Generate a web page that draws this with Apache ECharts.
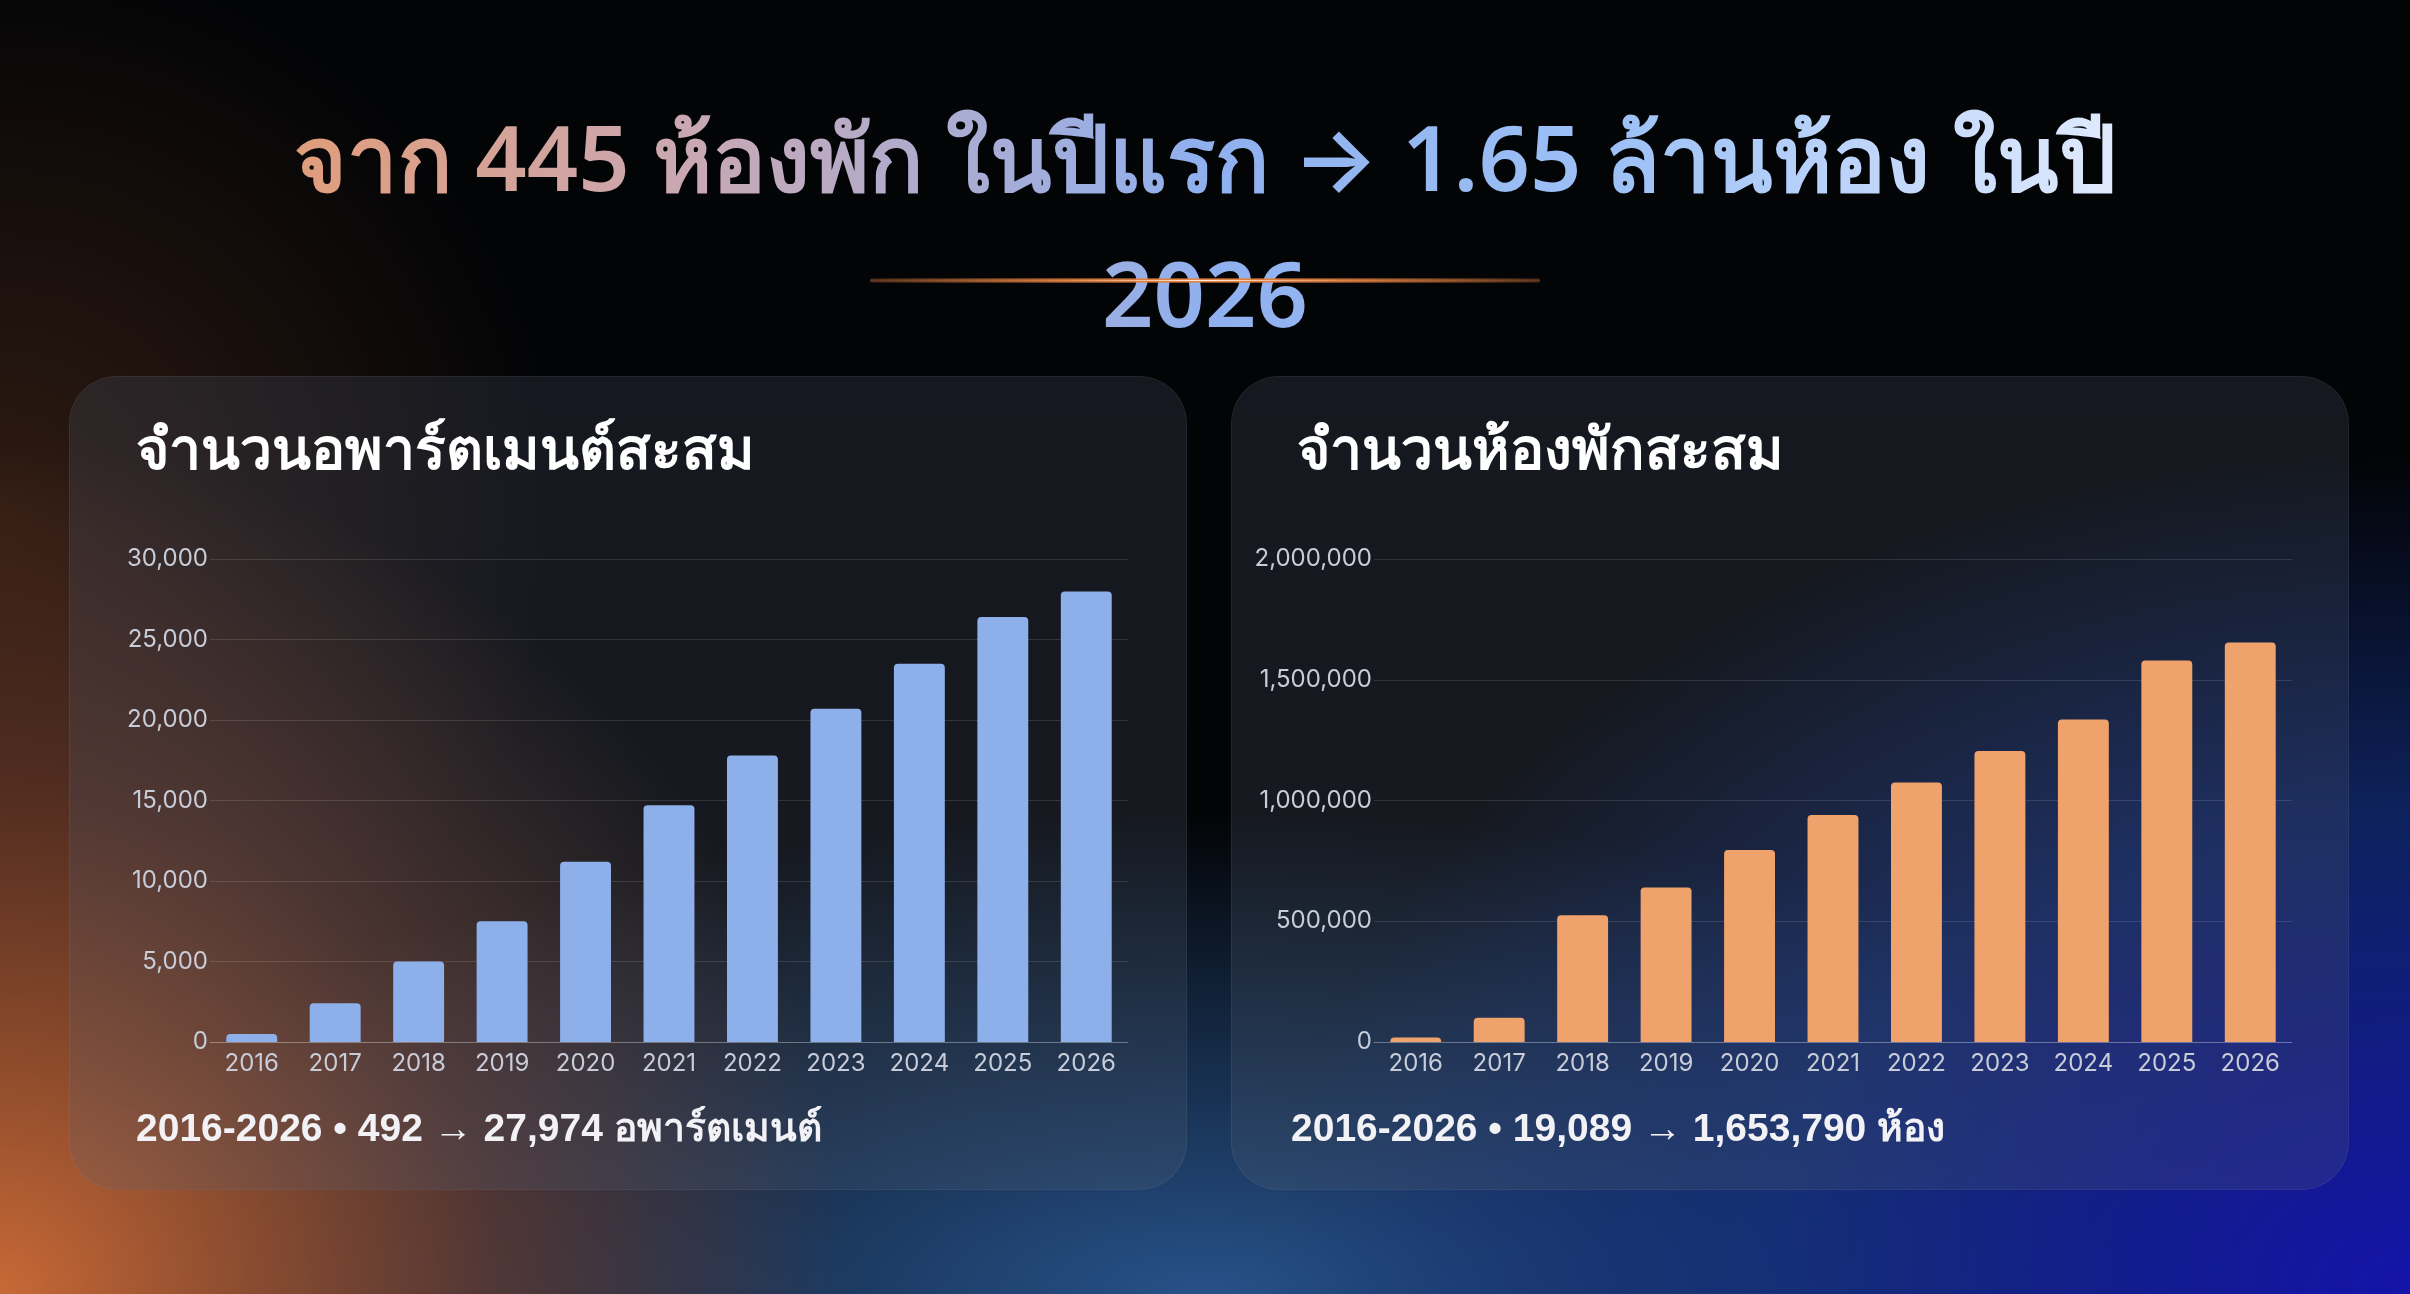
<!DOCTYPE html>
<html><head><meta charset="utf-8">
<script src="https://cdn.jsdelivr.net/npm/echarts@6/dist/echarts.min.js"></script>
<style>
html,body{margin:0;width:2410px;height:1294px;overflow:hidden;font-family:"Noto Sans",Inter,sans-serif;}
body{background:
 radial-gradient(ellipse 1000px 1000px at 0% 100%, rgba(200,105,55,1), rgba(130,70,50,0.55) 50%, rgba(0,0,0,0) 85%),
 radial-gradient(ellipse 1300px 950px at 100% 100%, rgba(20,20,170,1), rgba(20,50,140,0.65) 50%, rgba(0,0,0,0) 88%),
 radial-gradient(ellipse 1500px 600px at 50% 100%, rgba(45,95,160,0.85), rgba(0,0,0,0) 80%),
 radial-gradient(ellipse 700px 700px at 0% 40%, rgba(90,50,30,0.5), rgba(0,0,0,0) 80%),
 #030406;}
#title{position:absolute;top:88px;text-align:center;font-size:90px;font-weight:600;
 background:linear-gradient(90deg,#e79a6c 0%,#c9a8b4 25%,#8fb0ee 50%,#9cc0f6 70%,#eef3ff 100%);
 -webkit-background-clip:text;background-clip:text;color:transparent;width:2040px;left:185px;}
#glow{position:absolute;left:870px;top:278px;width:670px;height:5px;border-radius:3px;
 background:radial-gradient(ellipse at center,#fff0e0 0%,#e08040 30%,rgba(120,60,30,0) 100%);}
.panel{position:absolute;top:376px;width:1116px;height:812px;border-radius:48px;
 background:linear-gradient(180deg,rgba(70,80,100,0.28),rgba(90,100,120,0.22));border:1px solid rgba(255,255,255,0.06);}
#chart{position:absolute;left:0;top:0;width:2410px;height:1294px;}
</style></head><body>
<div id="title">จาก 445 ห้องพัก ในปีแรก → 1.65 ล้านห้อง ในปี 2026</div>
<div id="glow"></div>
<div class="panel" style="left:69px"></div>
<div class="panel" style="left:1231px"></div>
<div id="chart"></div>
<script>
const years=['2016','2017','2018','2019','2020','2021','2022','2023','2024','2025','2026'];
const apartments=[492,2400,5000,7500,11200,14700,17800,20700,23500,26400,27974];
const rooms=[19089,100000,525000,640000,795000,940000,1075000,1205000,1335000,1580000,1653790];
const c=echarts.init(document.getElementById('chart'),null,{renderer:'canvas'});
const lab={color:'#c8ccd8',fontSize:24,fontFamily:'Inter, Noto Sans, sans-serif'};
const fmt=v=>v.toLocaleString('en-US');
function yAx(i,max,iv){return{type:'value',gridIndex:i,min:0,max:max,interval:iv,axisLabel:Object.assign({formatter:fmt,margin:2},lab),
 splitLine:{lineStyle:{color:'rgba(255,255,255,0.12)'}},axisLine:{show:false},axisTick:{show:false}};}
function xAx(i){return{type:'category',gridIndex:i,data:years,axisLabel:Object.assign({margin:10},lab),
 axisLine:{lineStyle:{color:'rgba(255,255,255,0.25)'}},axisTick:{show:false}};}
c.setOption({
 title:[
  {text:'จำนวนอพาร์ตเมนต์สะสม',left:131,top:420,textStyle:{color:'#fff',fontSize:57,fontWeight:600}},
  {text:'จำนวนห้องพักสะสม',left:1292,top:420,textStyle:{color:'#fff',fontSize:57,fontWeight:600}},
  {text:'2016-2026 • 492 → 27,974 อพาร์ตเมนต์',left:131,top:1106,textStyle:{color:'#f2f2f6',fontSize:39,fontWeight:600}},
  {text:'2016-2026 • 19,089 → 1,653,790 ห้อง',left:1286,top:1106,textStyle:{color:'#f2f2f6',fontSize:39,fontWeight:600}}
 ],
 grid:[{left:210,top:559,width:918,height:483},{left:1374,top:559,width:918,height:483}],
 xAxis:[xAx(0),xAx(1)],
 yAxis:[yAx(0,30000,5000),yAx(1,2000000,500000)],
 series:[
  {type:'bar',xAxisIndex:0,yAxisIndex:0,data:apartments,barWidth:'61%',itemStyle:{color:'#8eb0ea',borderRadius:[4,4,0,0]}},
  {type:'bar',xAxisIndex:1,yAxisIndex:1,data:rooms,barWidth:'61%',itemStyle:{color:'#f0a26c',borderRadius:[4,4,0,0]}}
 ]
});
</script></body></html>
